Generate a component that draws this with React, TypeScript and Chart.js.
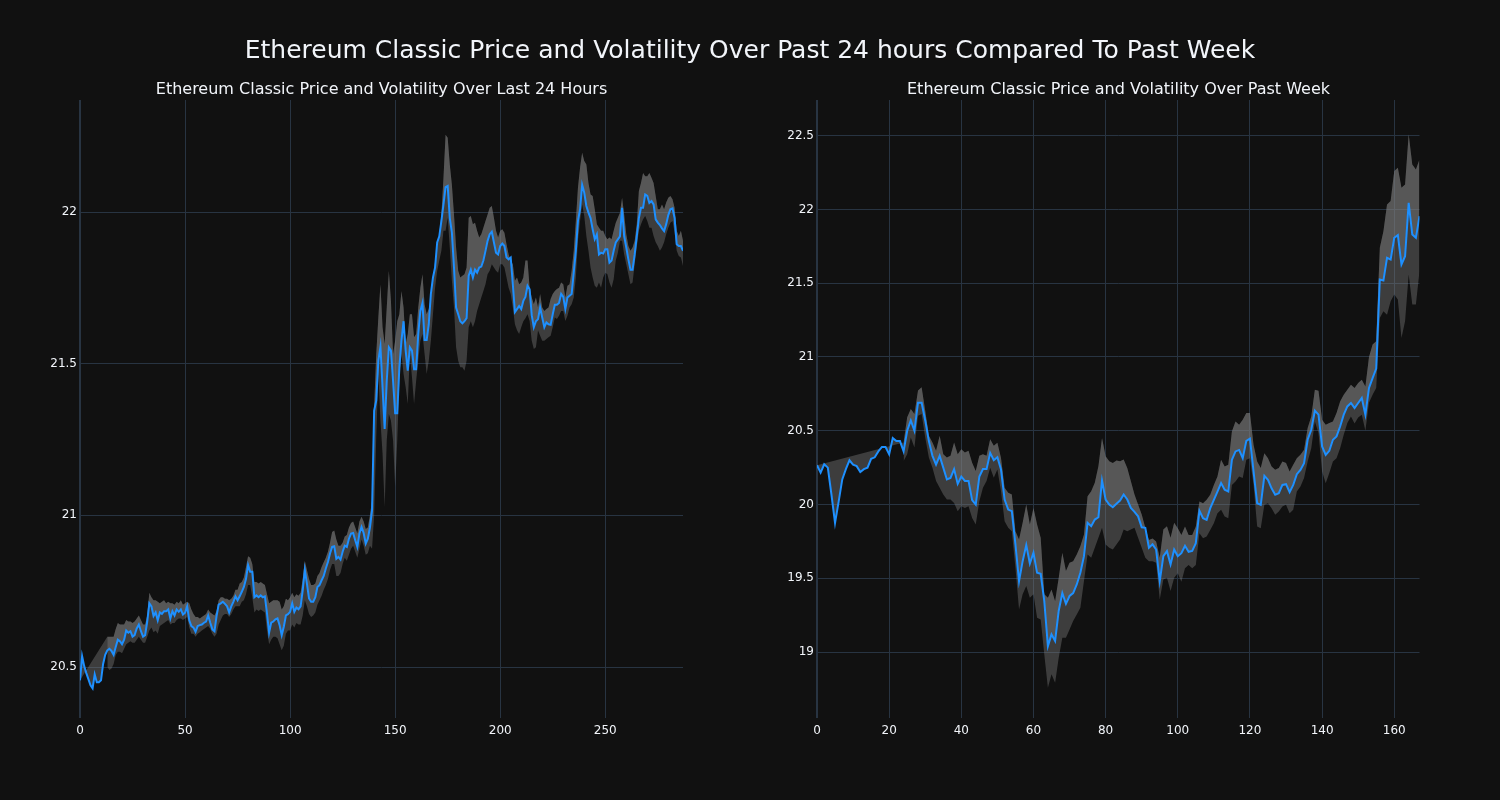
import React, { useEffect, useRef } from 'react';
import { Chart, registerables } from 'chart.js';

Chart.register(...registerables);

const MAIN_TITLE = 'Ethereum Classic Price and Volatility Over Past 24 hours Compared To Past Week';
const LEFT_TITLE = 'Ethereum Classic Price and Volatility Over Last 24 Hours';
const RIGHT_TITLE = 'Ethereum Classic Price and Volatility Over Past Week';

const _ = null;

// ---- Last 24 hours (5-minute steps) ----
const leftPrice = [
  20.456, 20.536, 20.503, 20.48, 20.46, 20.44, 20.43, 20.476, 20.45, 20.45,
  20.456, 20.51, 20.54, 20.555, 20.56, 20.553, 20.54, 20.566, 20.59, 20.585,
  20.575, 20.59, 20.62, 20.613, 20.618, 20.6, 20.605, 20.627, 20.64, 20.618,
  20.6, 20.605, 20.65, 20.71, 20.7, 20.668, 20.68, 20.654, 20.68, 20.675,
  20.684, 20.684, 20.69, 20.66, 20.684, 20.67, 20.69, 20.682, 20.69, 20.673,
  20.679, 20.7, 20.654, 20.635, 20.63, 20.616, 20.635, 20.638, 20.64, 20.646,
  20.65, 20.67, 20.646, 20.624, 20.618, 20.668, 20.706, 20.71, 20.715, 20.708,
  20.7, 20.68, 20.7, 20.715, 20.733, 20.72, 20.733, 20.748, 20.764, 20.79,
  20.836, 20.814, 20.814, 20.73, 20.736, 20.73, 20.736, 20.73, 20.733, 20.677,
  20.613, 20.646, 20.65, 20.657, 20.66, 20.638, 20.605, 20.633, 20.67, 20.674,
  20.682, 20.71, 20.682, 20.696, 20.69, 20.7, 20.753, 20.82, 20.775, 20.726,
  20.715, 20.715, 20.73, 20.764, 20.77, 20.786, 20.8, 20.825, 20.846, 20.874,
  20.896, 20.898, 20.857, 20.863, 20.854, 20.88, 20.9, 20.896, 20.923, 20.94,
  20.942, 20.918, 20.896, 20.94, 20.962, 20.942, 20.907, 20.923, 20.96, 21.016,
  21.345, 21.378, 21.51, 21.556, 21.422, 21.285, 21.444, 21.554, 21.543, 21.444,
  21.337, 21.337, 21.488, 21.576, 21.64, 21.543, 21.477, 21.554, 21.543, 21.482,
  21.482, 21.598, 21.674, 21.7, 21.578, 21.578, 21.63, 21.73, 21.784, 21.817,
  21.9, 21.92, 21.97, 22.025, 22.082, 22.086, 21.98, 21.932, 21.817, 21.685,
  21.663, 21.64, 21.633, 21.64, 21.65, 21.79, 21.81, 21.784, 21.81, 21.8,
  21.817, 21.82, 21.84, 21.872, 21.905, 21.927, 21.935, 21.9, 21.866, 21.86,
  21.888, 21.896, 21.888, 21.85, 21.844, 21.85, 21.762, 21.67, 21.68, 21.69,
  21.68, 21.707, 21.72, 21.757, 21.745, 21.66, 21.62, 21.64, 21.647, 21.685,
  21.652, 21.62, 21.636, 21.63, 21.628, 21.663, 21.694, 21.694, 21.7, 21.73,
  21.72, 21.68, 21.718, 21.724, 21.73, 21.8, 21.872, 21.97, 22.009, 22.09,
  22.064, 22.02, 21.998, 21.98, 21.943, 21.91, 21.926, 21.86, 21.866, 21.863,
  21.877, 21.877, 21.833, 21.84, 21.872, 21.9, 21.91, 21.92, 22.014, 21.92,
  21.883, 21.844, 21.81, 21.81, 21.86, 21.92, 21.98, 22.014, 22.014, 22.058,
  22.053, 22.03, 22.036, 22.025, 21.976, 21.965, 21.957, 21.946, 21.937, 21.96,
  21.99, 22.009, 22.012, 21.98, 21.894, 21.888, 21.888, 21.872,
];

const leftUpper = [
  20.456, _, _, _, _, _, _, _, _, _,
  _, _, _, 20.6, 20.6, 20.6, 20.6, 20.625, 20.645, 20.64,
  20.64, 20.64, 20.655, 20.65, 20.65, 20.645, 20.65, 20.66, 20.67, 20.655,
  20.64, 20.64, 20.67, 20.745, 20.73, 20.72, 20.72, 20.715, 20.71, 20.715,
  20.72, 20.71, 20.715, 20.71, 20.71, 20.705, 20.715, 20.71, 20.72, 20.705,
  20.71, 20.715, 20.71, 20.69, 20.675, 20.665, 20.665, 20.66, 20.665, 20.67,
  20.675, 20.69, 20.68, 20.675, 20.67, 20.685, 20.72, 20.73, 20.73, 20.725,
  20.725, 20.72, 20.725, 20.735, 20.755, 20.755, 20.775, 20.78, 20.795, 20.83,
  20.865, 20.86, 20.84, 20.78, 20.78, 20.775, 20.78, 20.775, 20.77, 20.74,
  20.71, 20.715, 20.72, 20.72, 20.72, 20.715, 20.69, 20.7, 20.725, 20.72,
  20.73, 20.745, 20.73, 20.74, 20.735, 20.745, 20.79, 20.85, 20.82, 20.79,
  20.77, 20.77, 20.775, 20.8, 20.81, 20.83, 20.845, 20.86, 20.88, 20.91,
  20.945, 20.95, 20.92, 20.9, 20.9, 20.91, 20.93, 20.935, 20.96, 20.975,
  20.98, 20.96, 20.94, 20.98, 20.995, 20.98, 20.955, 20.96, 21.0, 21.05,
  21.36, 21.532, 21.652, 21.762, 21.62, 21.565, 21.685, 21.806, 21.707, 21.532,
  21.576, 21.64, 21.663, 21.74, 21.685, 21.565, 21.598, 21.663, 21.663, 21.587,
  21.598, 21.685, 21.75, 21.795, 21.696, 21.663, 21.68, 21.718, 21.762, 21.84,
  21.883, 21.927, 21.992, 22.113, 22.255, 22.245, 22.157, 22.09, 21.992, 21.883,
  21.806, 21.784, 21.79, 21.795, 21.817, 21.981, 21.987, 21.96, 21.965, 21.938,
  21.916, 21.927, 21.948, 21.97, 21.992, 22.014, 22.02, 21.981, 21.938, 21.916,
  21.938, 21.943, 21.932, 21.894, 21.86, 21.84, 21.828, 21.773, 21.784, 21.762,
  21.768, 21.784, 21.84, 21.84, 21.75, 21.718, 21.696, 21.718, 21.685, 21.73,
  21.685, 21.674, 21.68, 21.685, 21.713, 21.73, 21.74, 21.746, 21.75, 21.768,
  21.762, 21.718, 21.757, 21.762, 21.806, 21.872, 21.97, 22.08, 22.146, 22.195,
  22.168, 22.157, 22.096, 22.058, 22.053, 22.009, 21.96, 21.948, 21.938, 21.938,
  21.921, 21.91, 21.916, 21.91, 21.938, 21.965, 21.981, 21.998, 22.047, 21.992,
  21.927, 21.888, 21.872, 21.883, 21.905, 21.96, 22.069, 22.096, 22.129, 22.118,
  22.118, 22.129, 22.113, 22.096, 22.053, 22.009, 22.009, 22.025, 22.009, 22.031,
  22.047, 22.053, 22.042, 22.014, 21.938, 21.921, 21.938, 21.905,
];

const leftLower = [
  _, _, _, _, _, _, _, _, _, _,
  _, _, _, 20.5, 20.49, 20.495, 20.51, 20.54, 20.55, 20.55,
  20.545, 20.56, 20.575, 20.58, 20.585, 20.58, 20.58, 20.59, 20.6, 20.59,
  20.58, 20.58, 20.6, 20.62, 20.63, 20.615, 20.62, 20.61, 20.635, 20.64,
  20.645, 20.65, 20.655, 20.64, 20.645, 20.645, 20.655, 20.66, 20.66, 20.655,
  20.66, 20.665, 20.63, 20.61, 20.61, 20.6, 20.61, 20.615, 20.62, 20.625,
  20.63, 20.635, 20.625, 20.61, 20.6, 20.61, 20.64, 20.655, 20.67, 20.675,
  20.675, 20.665, 20.675, 20.69, 20.7, 20.7, 20.7, 20.715, 20.72, 20.74,
  20.77, 20.77, 20.73, 20.68, 20.69, 20.685, 20.69, 20.685, 20.68, 20.62,
  20.575, 20.59, 20.6, 20.6, 20.595, 20.575, 20.555, 20.57, 20.61, 20.62,
  20.62, 20.64, 20.63, 20.645, 20.64, 20.64, 20.67, 20.72, 20.7, 20.675,
  20.665, 20.67, 20.68, 20.705, 20.72, 20.735, 20.755, 20.77, 20.79, 20.82,
  20.84, 20.84, 20.8, 20.8, 20.81, 20.84, 20.86, 20.85, 20.87, 20.89,
  20.9, 20.88, 20.86, 20.89, 20.92, 20.9, 20.87, 20.875, 20.9, 20.89,
  21.0, 21.258, 21.466, 21.312, 21.203, 21.027, 21.247, 21.334, 21.312, 21.247,
  21.093, 21.247, 21.444, 21.532, 21.466, 21.422, 21.367, 21.532, 21.455, 21.367,
  21.444, 21.51, 21.576, 21.598, 21.532, 21.466, 21.51, 21.576, 21.663, 21.75,
  21.806, 21.84, 21.872, 21.938, 21.938, 21.981, 21.883, 21.773, 21.685, 21.554,
  21.51, 21.488, 21.488, 21.477, 21.51, 21.62, 21.64, 21.62, 21.64, 21.674,
  21.696, 21.718, 21.74, 21.762, 21.795, 21.806, 21.828, 21.817, 21.806, 21.8,
  21.828, 21.828, 21.817, 21.784, 21.75, 21.73, 21.685, 21.63, 21.61, 21.598,
  21.62, 21.64, 21.65, 21.663, 21.641, 21.576, 21.548, 21.554, 21.609, 21.592,
  21.576, 21.576, 21.581, 21.587, 21.592, 21.62, 21.652, 21.647, 21.658, 21.674,
  21.674, 21.641, 21.658, 21.685, 21.696, 21.718, 21.784, 21.905, 21.97, 22.025,
  21.987, 21.921, 21.872, 21.817, 21.784, 21.757, 21.75, 21.768, 21.75, 21.784,
  21.8, 21.795, 21.768, 21.75, 21.778, 21.84, 21.866, 21.905, 21.905, 21.86,
  21.828, 21.795, 21.762, 21.768, 21.828, 21.883, 21.938, 21.96, 21.976, 21.987,
  21.97, 21.948, 21.948, 21.921, 21.9, 21.888, 21.872, 21.883, 21.9, 21.927,
  21.948, 21.965, 21.97, 21.932, 21.872, 21.855, 21.85, 21.822,
];

const leftXTicks = [0, 50, 100, 150, 200, 250];
const leftYTicks = [20.5, 21, 21.5, 22];

// ---- Past week (hourly steps) ----
const rightPrice = [
  20.266, 20.216, 20.273, 20.25, 20.068, 19.875, 20.02, 20.17, 20.24, 20.3,
  20.27, 20.26, 20.22, 20.24, 20.25, 20.31, 20.32, 20.36, 20.39, 20.39,
  20.34, 20.45, 20.43, 20.43, 20.36, 20.5, 20.57, 20.5, 20.69, 20.69,
  20.57, 20.43, 20.33, 20.27, 20.33, 20.25, 20.17, 20.18, 20.24, 20.14,
  20.19, 20.16, 20.16, 20.03, 20.0, 20.19, 20.24, 20.24, 20.35, 20.3,
  20.32, 20.237, 20.034, 19.966, 19.955, 19.73, 19.48, 19.616, 19.725, 19.6,
  19.673, 19.537, 19.53, 19.345, 19.04, 19.12, 19.075, 19.28, 19.4, 19.327,
  19.38, 19.4, 19.458, 19.537, 19.65, 19.876, 19.853, 19.898, 19.914, 20.163,
  20.034, 20.0, 19.982, 20.005, 20.027, 20.068, 20.034, 19.977, 19.95, 19.92,
  19.846, 19.842, 19.707, 19.73, 19.695, 19.48, 19.65, 19.684, 19.594, 19.695,
  19.65, 19.67, 19.72, 19.68, 19.686, 19.738, 19.957, 19.907, 19.896, 19.975,
  20.032, 20.088, 20.145, 20.1, 20.088, 20.303, 20.36, 20.37, 20.314, 20.432,
  20.446, 20.224, 20.009, 19.998, 20.195, 20.167, 20.11, 20.066, 20.077, 20.133,
  20.138, 20.084, 20.133, 20.206, 20.235, 20.28, 20.439, 20.507, 20.636, 20.609,
  20.394, 20.337, 20.364, 20.439, 20.462, 20.529, 20.609, 20.665, 20.688, 20.654,
  20.688, 20.722, 20.609, 20.79, 20.857, 20.921, 21.525, 21.518, 21.672, 21.66,
  21.808, 21.826, 21.627, 21.683, 22.045, 21.83, 21.808, 21.955,
];

const rightUpper = [
  20.266, _, _, _, _, _, _, _, _, _,
  _, _, _, _, _, _, _, _, _, _,
  _, _, _, _, 20.42, 20.591, 20.648, 20.614, 20.773, 20.795,
  20.636, 20.466, 20.42, 20.364, 20.466, 20.341, 20.318, 20.33, 20.42, 20.341,
  20.375, 20.352, 20.364, 20.284, 20.227, 20.33, 20.341, 20.33, 20.443, 20.398,
  20.418, 20.316, 20.113, 20.079, 20.068, 19.819, 19.763, 19.876, 20.0, 19.865,
  19.977, 19.865, 19.774, 19.391, 19.368, 19.424, 19.345, 19.503, 19.673, 19.549,
  19.605, 19.616, 19.661, 19.718, 19.797, 20.056, 20.09, 20.147, 20.26, 20.451,
  20.327, 20.293, 20.282, 20.298, 20.293, 20.305, 20.248, 20.158, 20.068, 20.0,
  19.932, 19.842, 19.76, 19.77, 19.75, 19.639, 19.831, 19.853, 19.774, 19.876,
  19.839, 19.794, 19.851, 19.794, 19.794, 19.851, 20.02, 20.009, 20.032, 20.066,
  20.133, 20.19, 20.303, 20.258, 20.269, 20.495, 20.563, 20.541, 20.575, 20.62,
  20.62, 20.405, 20.292, 20.247, 20.348, 20.314, 20.258, 20.235, 20.247, 20.292,
  20.281, 20.224, 20.269, 20.314, 20.337, 20.371, 20.518, 20.597, 20.778, 20.771,
  20.575, 20.541, 20.552, 20.563, 20.62, 20.699, 20.744, 20.778, 20.812, 20.79,
  20.824, 20.846, 20.8, 21.0, 21.084, 21.106, 21.74, 21.853, 22.034, 22.057,
  22.26, 22.283, 22.147, 22.17, 22.509, 22.305, 22.271, 22.339,
];

const rightLower = [
  _, _, _, _, _, _, _, _, _, _,
  _, _, _, _, _, _, _, _, _, _,
  _, _, _, _, 20.295, 20.341, 20.455, 20.386, 20.602, 20.614,
  20.455, 20.318, 20.25, 20.159, 20.114, 20.068, 20.034, 20.034, 20.011, 19.955,
  19.989, 19.977, 19.989, 19.909, 19.864, 20.023, 20.114, 20.159, 20.25, 20.182,
  20.237, 20.09, 19.887, 19.842, 19.819, 19.571, 19.289, 19.391, 19.447, 19.368,
  19.391, 19.233, 19.221, 18.984, 18.758, 18.849, 18.792, 18.962, 19.097, 19.097,
  19.153, 19.21, 19.255, 19.3, 19.481, 19.661, 19.639, 19.707, 19.774, 19.842,
  19.729, 19.707, 19.695, 19.729, 19.763, 19.831, 19.819, 19.831, 19.842, 19.774,
  19.707, 19.639, 19.616, 19.616, 19.605, 19.357, 19.492, 19.503, 19.413, 19.503,
  19.534, 19.477, 19.568, 19.59, 19.568, 19.59, 19.805, 19.771, 19.783, 19.828,
  19.873, 19.941, 19.964, 19.919, 19.907, 20.133, 20.156, 20.19, 20.179, 20.303,
  20.314, 20.133, 19.851, 19.839, 19.998, 20.009, 19.975, 19.93, 19.952, 19.986,
  19.998, 19.941, 19.964, 20.088, 20.122, 20.179, 20.292, 20.382, 20.563, 20.484,
  20.224, 20.145, 20.213, 20.292, 20.314, 20.382, 20.473, 20.552, 20.597, 20.55,
  20.59, 20.609, 20.5, 20.69, 20.744, 20.79, 21.265, 21.31, 21.287, 21.378,
  21.423, 21.389, 21.129, 21.242, 21.559, 21.355, 21.355, 21.581,
];

const rightXTicks = [0, 20, 40, 60, 80, 100, 120, 140, 160];
const rightYTicks = [19, 19.5, 20, 20.5, 21, 21.5, 22, 22.5];

const BG = '#111111';
const GRID = '#283442';
const TEXT = '#f2f5fa';
const LINE = '#1e90ff';
const BAND = 'rgba(128,128,128,0.4)';
const FONT = "'DejaVu Sans', sans-serif";

const toPoints = (arr: (number | null)[]) => arr.map((y, i) => ({ x: i, y }));

type PanelProps = {
  price: number[];
  upper: (number | null)[];
  lower: (number | null)[];
  xMax: number;
  yMin: number;
  yMax: number;
  xTicks: number[];
  yTicks: number[];
  yAxisWidth: number;
  padRight: number;
};

function Panel(props: PanelProps) {
  const ref = useRef<HTMLCanvasElement | null>(null);
  useEffect(() => {
    if (!ref.current) return;
    const { price, upper, lower, xMax, yMin, yMax, xTicks, yTicks, yAxisWidth, padRight } = props;
    const chart = new Chart(ref.current, {
      type: 'line',
      data: {
        datasets: [
          {
            data: toPoints(price),
            borderColor: LINE,
            borderWidth: 2,
            pointRadius: 0,
            fill: false,
            tension: 0,
          },
          {
            data: toPoints(upper),
            borderColor: 'rgba(0,0,0,0)',
            borderWidth: 0,
            pointRadius: 0,
            backgroundColor: BAND,
            fill: 0,
            spanGaps: true,
            tension: 0,
          },
          {
            data: toPoints(lower),
            borderColor: 'rgba(0,0,0,0)',
            borderWidth: 0,
            pointRadius: 0,
            backgroundColor: BAND,
            fill: 1,
            spanGaps: true,
            tension: 0,
          },
        ],
      } as any,
      options: {
        animation: false,
        responsive: false,
        maintainAspectRatio: false,
        events: [],
        layout: { padding: { top: 100, right: padRight, bottom: 52, left: 0 } },
        plugins: {
          legend: { display: false },
          tooltip: { enabled: false },
          title: { display: false },
        },
        scales: {
          x: {
            type: 'linear',
            min: 0,
            max: xMax,
            border: { display: false },
            grid: {
              color: GRID,
              drawTicks: false,
              lineWidth: (ctx: any) => (ctx.tick && ctx.tick.value === 0 ? 2 : 1),
            },
            ticks: {
              color: TEXT,
              font: { family: FONT, size: 12 },
              padding: 6,
              maxRotation: 0,
              autoSkip: false,
              callback: (v: any) => String(v),
            },
            afterBuildTicks: (axis: any) => {
              axis.ticks = xTicks.map((v) => ({ value: v }));
            },
            afterFit: (scale: any) => {
              scale.height = 30;
            },
          },
          y: {
            type: 'linear',
            min: yMin,
            max: yMax,
            border: { display: false },
            grid: { color: GRID, drawTicks: false, lineWidth: 1 },
            ticks: {
              color: TEXT,
              font: { family: FONT, size: 12 },
              padding: 3,
              autoSkip: false,
              callback: (v: any) => String(v),
            },
            afterBuildTicks: (axis: any) => {
              axis.ticks = yTicks.map((v) => ({ value: v }));
            },
            afterFit: (scale: any) => {
              scale.width = yAxisWidth;
            },
          },
        },
      } as any,
    });
    return () => chart.destroy();
  }, []);
  return <canvas ref={ref} width={750} height={800} style={{ width: 750, height: 800, display: 'block' }} />;
}

const titleStyle = (left: number, width: number, top: number, size: number): React.CSSProperties => ({
  position: 'absolute',
  left,
  width,
  top,
  height: 30,
  lineHeight: '30px',
  textAlign: 'center',
  color: TEXT,
  fontFamily: FONT,
  fontSize: size,
  whiteSpace: 'nowrap',
});

export default function App() {
  return (
    <div style={{ position: 'fixed', left: 0, top: 0, width: 1500, height: 800, background: BG, overflow: 'hidden' }}>
      <div style={{ position: 'absolute', left: 0, top: 0 }}>
        <Panel
          price={leftPrice}
          upper={leftUpper}
          lower={leftLower}
          xMax={287}
          yMin={20.3319}
          yMax={22.3693}
          xTicks={leftXTicks}
          yTicks={leftYTicks}
          yAxisWidth={80}
          padRight={67}
        />
      </div>
      <div style={{ position: 'absolute', left: 750, top: 0 }}>
        <Panel
          price={rightPrice}
          upper={rightUpper}
          lower={rightLower}
          xMax={167}
          yMin={18.553}
          yMax={22.742}
          xTicks={rightXTicks}
          yTicks={rightYTicks}
          yAxisWidth={67}
          padRight={80.5}
        />
      </div>
      <div style={titleStyle(0, 1500, 35, 25)}>{MAIN_TITLE}</div>
      <div style={titleStyle(80, 603, 74, 16)}>{LEFT_TITLE}</div>
      <div style={titleStyle(817, 603, 74, 16)}>{RIGHT_TITLE}</div>
    </div>
  );
}
